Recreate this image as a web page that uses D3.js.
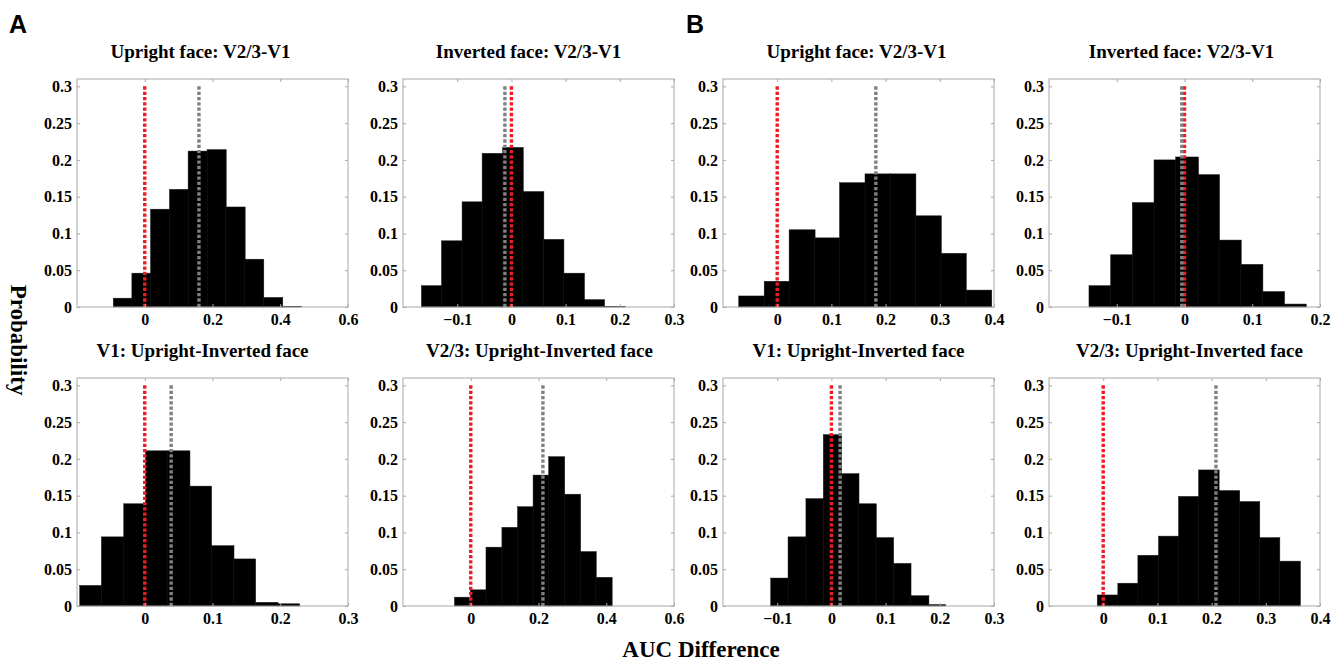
<!DOCTYPE html>
<html>
<head>
<meta charset="utf-8">
<script src="https://cdn.jsdelivr.net/npm/d3@7"></script>
<style>
  body { margin: 0; background: #fff; }
  text { font-family: "Liberation Serif", "Times New Roman", serif; font-weight: bold; }
</style>
</head>
<body>
<script>
// panel titles, left to right, top row then bottom row
var titles = [
    "Upright face: V2/3-V1", "Inverted face: V2/3-V1",
    "Upright face: V2/3-V1", "Inverted face: V2/3-V1",
    "V1: Upright-Inverted face", "V2/3: Upright-Inverted face",
    "V1: Upright-Inverted face", "V2/3: Upright-Inverted face"
];

var xDomains = [
    [-0.2, 0.6], [-0.2, 0.3], [-0.1, 0.4], [-0.2, 0.2],
    [-0.1, 0.3], [-0.2, 0.6], [-0.2, 0.3], [-0.1, 0.4]
];

var xTicks = [
    [0, 0.2, 0.4, 0.6], [-0.1, 0, 0.1, 0.2, 0.3], [0, 0.1, 0.2, 0.3, 0.4], [-0.1, 0, 0.1, 0.2],
    [0, 0.1, 0.2, 0.3], [0, 0.2, 0.4, 0.6], [-0.1, 0, 0.1, 0.2, 0.3], [0, 0.1, 0.2, 0.3, 0.4]
];

var yTicks = [0, 0.05, 0.1, 0.15, 0.2, 0.25, 0.3];

// histogram bin edges
var binEdges = [
    [-0.093, -0.038, 0.017, 0.073, 0.128, 0.184, 0.239, 0.295, 0.350, 0.406, 0.461],
    [-0.166, -0.129, -0.091, -0.054, -0.016, 0.021, 0.059, 0.096, 0.134, 0.171, 0.209],
    [-0.071, -0.024, 0.022, 0.069, 0.115, 0.162, 0.209, 0.255, 0.302, 0.348, 0.395],
    [-0.141, -0.109, -0.077, -0.045, -0.013, 0.020, 0.051, 0.083, 0.115, 0.147, 0.179],
    [-0.096, -0.064, -0.031, 0.001, 0.033, 0.066, 0.098, 0.131, 0.163, 0.196, 0.228],
    [-0.048, -0.001, 0.045, 0.092, 0.138, 0.184, 0.230, 0.276, 0.323, 0.369, 0.416],
    [-0.112, -0.080, -0.047, -0.015, 0.018, 0.050, 0.082, 0.114, 0.146, 0.179, 0.210],
    [-0.011, 0.027, 0.064, 0.102, 0.139, 0.176, 0.213, 0.251, 0.288, 0.325, 0.363]
];

// probability of each bin
var probs = [
    [0.012, 0.046, 0.133, 0.160, 0.212, 0.214, 0.136, 0.065, 0.013, 0.001],
    [0.029, 0.090, 0.143, 0.209, 0.217, 0.157, 0.092, 0.046, 0.010, 0.001],
    [0.015, 0.035, 0.105, 0.094, 0.169, 0.181, 0.181, 0.124, 0.073, 0.023],
    [0.029, 0.071, 0.142, 0.200, 0.204, 0.180, 0.091, 0.058, 0.021, 0.004],
    [0.028, 0.094, 0.139, 0.211, 0.211, 0.163, 0.082, 0.064, 0.005, 0.003],
    [0.012, 0.022, 0.080, 0.107, 0.135, 0.178, 0.203, 0.152, 0.074, 0.039],
    [0.038, 0.094, 0.146, 0.233, 0.180, 0.139, 0.093, 0.058, 0.014, 0.002],
    [0.015, 0.031, 0.069, 0.095, 0.149, 0.185, 0.157, 0.142, 0.093, 0.061]
];

var zeroLine = [0, 0, 0, 0, 0, 0, 0, 0];
var observed = [0.160, -0.012, 0.182, -0.004, 0.039, 0.213, 0.016, 0.208];

// layout
var colLeft = [77, 403, 723, 1049];
var titleShift = [-12, -10, -2, -3, -10, 1, 0, 5];
var rowBottom = [307, 606];
var boxW = 271;
var boxH = 228;
var yMax = 0.31;

var svg = d3.select("body").append("svg")
    .attr("width", 1341)
    .attr("height", 663);

function fmt(d) {
    return (d < 0 ? "\u2212" : "") + String(Math.abs(d));
}

function drawPanel(i) {
    var left = colLeft[i % 4];
    var bottom = rowBottom[Math.floor(i / 4)];
    var top = bottom - boxH;

    var x = d3.scaleLinear().domain(xDomains[i]).range([left, left + boxW]);
    var y = d3.scaleLinear().domain([0, yMax]).range([bottom, top]);

    var g = svg.append("g");

    var bins = probs[i].map(function (p, k) {
        return { x0: binEdges[i][k], x1: binEdges[i][k + 1], p: p };
    });

    g.selectAll("rect.bar").data(bins).enter().append("rect")
        .attr("class", "bar")
        .attr("x", function (d) { return x(d.x0); })
        .attr("width", function (d) { return x(d.x1) - x(d.x0) + 0.5; })
        .attr("y", function (d) { return y(d.p); })
        .attr("height", function (d) { return y(0) - y(d.p); })
        .attr("fill", "#000")
        .attr("stroke", "#1a1a1a")
        .attr("stroke-width", 0.5);

    function vline(v, color) {
        g.append("line")
            .attr("x1", x(v)).attr("x2", x(v))
            .attr("y1", y(0.3)).attr("y2", y(0))
            .attr("stroke", color)
            .attr("stroke-width", 3.4)
            .attr("stroke-dasharray", "3.3,2");
    }
    vline(zeroLine[i], "#ec1c24");
    vline(observed[i], "#808080");

    var axisColor = "#a8a8a8";

    var xb = g.append("g").attr("transform", "translate(0," + bottom + ")")
        .call(d3.axisBottom(x).tickValues(xTicks[i]).tickFormat(fmt)
            .tickSizeInner(-3).tickSizeOuter(0).tickPadding(7));
    var xt = g.append("g").attr("transform", "translate(0," + top + ")")
        .call(d3.axisTop(x).tickValues(xTicks[i]).tickFormat("")
            .tickSizeInner(-3).tickSizeOuter(0));
    var yl = g.append("g").attr("transform", "translate(" + left + ",0)")
        .call(d3.axisLeft(y).tickValues(yTicks).tickFormat(fmt)
            .tickSizeInner(-3).tickSizeOuter(0).tickPadding(5));
    var yr = g.append("g").attr("transform", "translate(" + (left + boxW) + ",0)")
        .call(d3.axisRight(y).tickValues(yTicks).tickFormat("")
            .tickSizeInner(-3).tickSizeOuter(0));

    [xb, xt, yl, yr].forEach(function (a) {
        a.select(".domain").remove();
        a.selectAll(".tick line").attr("stroke", axisColor);
        a.selectAll("text")
            .attr("fill", "#000")
            .style("font-family", "'Liberation Serif', serif")
            .style("font-weight", "bold")
            .style("font-size", "16px");
    });

    g.append("rect")
        .attr("x", left).attr("y", top)
        .attr("width", boxW).attr("height", boxH)
        .attr("fill", "none")
        .attr("stroke", axisColor)
        .attr("stroke-width", 1);

    g.append("text")
        .attr("x", left + boxW / 2 + titleShift[i])
        .attr("y", top - 21)
        .attr("text-anchor", "middle")
        .style("font-size", "19px")
        .text(titles[i]);
}

for (var i = 0; i < titles.length; i++) {
    drawPanel(i);
}

svg.append("text")
    .attr("transform", "translate(11,340) rotate(90)")
    .attr("text-anchor", "middle")
    .style("font-size", "23px")
    .text("Probability");

svg.append("text")
    .attr("x", 701)
    .attr("y", 657)
    .attr("text-anchor", "middle")
    .style("font-size", "23px")
    .text("AUC Difference");

svg.selectAll("text.panel-letter").data(["A", "B"]).enter().append("text")
    .attr("class", "panel-letter")
    .attr("x", function (d, k) { return k === 0 ? 9 : 686; })
    .attr("y", 33)
    .style("font-family", "'Liberation Sans', Arial, sans-serif")
    .style("font-weight", "bold")
    .style("font-size", "25px")
    .text(function (d) { return d; });
</script>
</body>
</html>
